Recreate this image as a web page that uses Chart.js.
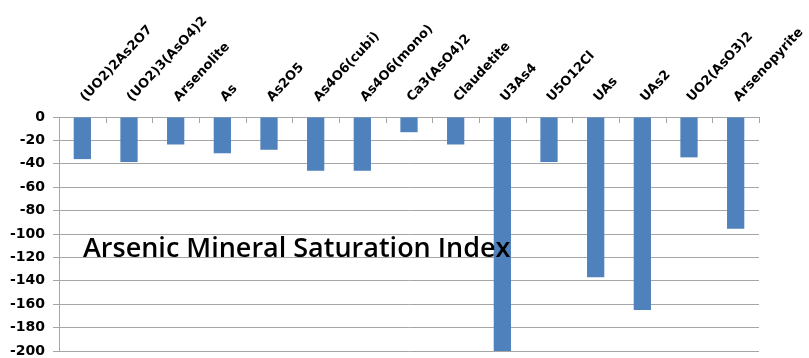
<!DOCTYPE html>
<html>
<head>
<meta charset="utf-8">
<script src="https://cdn.jsdelivr.net/npm/chart.js@4"></script>
<style>
  html, body { margin: 0; padding: 0; background: #fff; }
  #wrap { width: 809px; height: 358px; position: relative; }
</style>
</head>
<body>
<div id="wrap"><canvas id="c"></canvas></div>
<script>
// Mineral phases (category axis, drawn along the top)
const minerals = [
  "(UO2)2As2O7", "(UO2)3(AsO4)2", "Arsenolite", "As", "As2O5",
  "As4O6(cubi)", "As4O6(mono)", "Ca3(AsO4)2", "Claudetite", "U3As4",
  "U5O12Cl", "UAs", "UAs2", "UO2(AsO3)2", "Arsenopyrite"
];

// Saturation index for each phase
const saturationIndex = [
  -36, -38.5, -23.5, -31, -28,
  -46, -46, -13, -23.5, -200,
  -38.5, -137, -165, -34.5, -95.5
];

// Value axis range and step
const yMin = -200;
const yMax = 0;
const yStep = 20;

const chartTitle = "Arsenic Mineral Saturation Index";

const GRID = "#a6a6a6";
const BAR = "#4f81bd";

// Small tick marks hanging below the category axis line, at category boundaries
const categoryTicks = {
  id: "categoryTicks",
  afterDraw(chart) {
    const { ctx, chartArea } = chart;
    const n = minerals.length;
    const w = (chartArea.right - chartArea.left) / n;
    ctx.save();
    ctx.strokeStyle = GRID;
    ctx.lineWidth = 1;
    ctx.beginPath();
    for (let i = 1; i <= n; i++) {
      const x = Math.round(chartArea.left + i * w) + 0.5;
      ctx.moveTo(x, chartArea.top);
      ctx.lineTo(x, chartArea.top + 6);
    }
    ctx.stroke();
    ctx.restore();
  }
};

// Chart caption placed inside the plot area
const innerTitle = {
  id: "innerTitle",
  afterDatasetsDraw(chart) {
    const { ctx, chartArea } = chart;
    ctx.save();
    ctx.font = "600 27px 'Open Sans'";
    ctx.fillStyle = "#000";
    ctx.textBaseline = "alphabetic";
    ctx.textAlign = "left";
    ctx.fillText(chartTitle, chartArea.left + 24, 257);
    ctx.restore();
  }
};

new Chart(document.getElementById("c"), {
  type: "bar",
  data: {
    labels: minerals,
    datasets: [{
      data: saturationIndex,
      backgroundColor: BAR,
      borderWidth: 0,
      barPercentage: 0.37,
      categoryPercentage: 1.0
    }]
  },
  options: {
    responsive: true,
    maintainAspectRatio: false,
    animation: false,
    layout: { padding: { left: 0, right: 50, top: 0, bottom: 7 } },
    plugins: {
      legend: { display: false },
      tooltip: { enabled: false },
      title: { display: false }
    },
    scales: {
      x: {
        position: "top",
        offset: true,
        grid: { display: true, drawOnChartArea: false, drawTicks: false },
        border: { display: true, color: GRID, width: 1 },
        ticks: {
          autoSkip: false,
          minRotation: 47,
          maxRotation: 47,
          padding: 12,
          labelOffset: 12,
          color: "#000",
          font: { family: "'DejaVu Sans'", size: 13, weight: "bold" }
        },
        afterFit(scale) {
          scale.height = 117;
          scale.paddingLeft = 0;
          scale.paddingRight = 0;
        }
      },
      y: {
        min: yMin,
        max: yMax,
        grid: { color: GRID, lineWidth: 1, tickLength: 6, drawTicks: true },
        border: { display: true, color: GRID, width: 1 },
        ticks: {
          stepSize: yStep,
          padding: 8,
          color: "#000",
          font: { family: "'DejaVu Sans'", size: 14, weight: "bold" }
        },
        afterFit(scale) {
          scale.width = 59;
          scale.paddingTop = 0;
          scale.paddingBottom = 0;
        }
      }
    }
  },
  plugins: [categoryTicks, innerTitle]
});
</script>
</body>
</html>
